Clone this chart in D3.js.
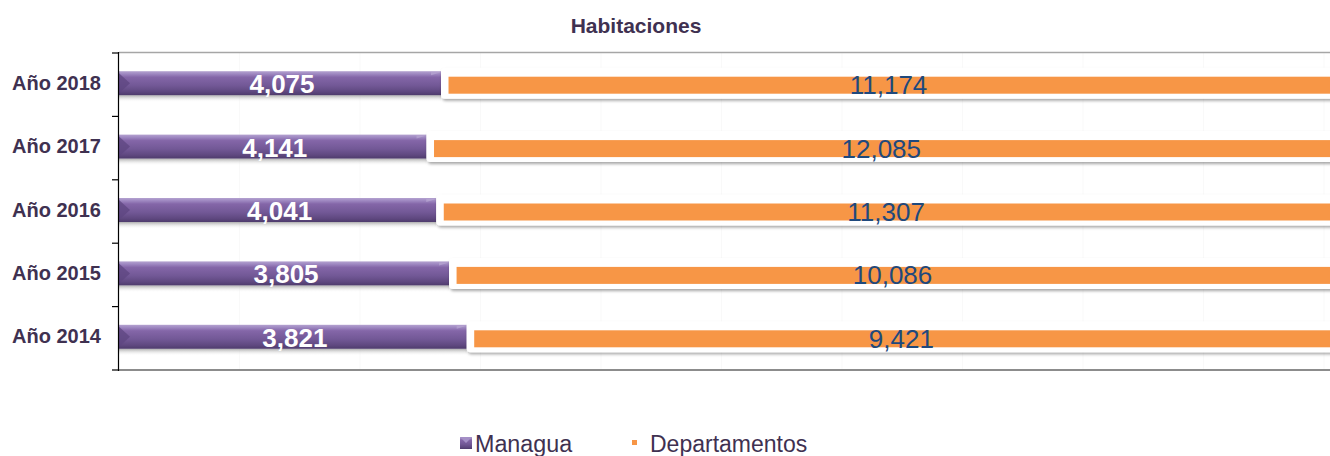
<!DOCTYPE html>
<html>
<head>
<meta charset="utf-8">
<script src="https://cdn.jsdelivr.net/npm/d3@7"></script>
<style>
  html, body { margin: 0; padding: 0; background: #fff; }
  #chart { width: 1330px; height: 456px; }
  text { font-family: "Liberation Sans", Arial, sans-serif; }
</style>
</head>
<body>
<div id="chart"></div>
<script>
const years = ['Año 2018', 'Año 2017', 'Año 2016', 'Año 2015', 'Año 2014']
const managua = [4075, 4141, 4041, 3805, 3821]
const departamentos = [11174, 12085, 11307, 10086, 9421]
const seriesNames = ['Managua', 'Departamentos']

const W = 1330
const H = 456
const PLOT = {left: 119, right: 1324, top: 53, bottom: 370}
const fmt = d3.format(',')

const svg = d3.select('#chart').append('svg').attr('width', W).attr('height', H)
const defs = svg.append('defs')

const purpleGrad = defs.append('linearGradient').attr('id', 'pg').attr('x1', 0).attr('y1', 0).attr('x2', 0).attr('y2', 1)
purpleGrad.selectAll('stop')
  .data([[0, '#b4a2d0'], [0.12, '#9d86c0'], [0.25, '#8466a8'], [0.6, '#725896'], [0.85, '#5f4880'], [1, '#4e3b6c']])
  .enter().append('stop')
  .attr('offset', d => d[0]).attr('stop-color', d => d[1])

const shadowGrad = defs.append('linearGradient').attr('id', 'sg').attr('x1', 0).attr('y1', 0).attr('x2', 0).attr('y2', 1)
shadowGrad.append('stop').attr('offset', 0).attr('stop-color', '#9a9a9a').attr('stop-opacity', 0.8)
shadowGrad.append('stop').attr('offset', 1).attr('stop-color', '#ffffff').attr('stop-opacity', 0)

const boxShadow = defs.append('filter').attr('id', 'bs').attr('x', '-5%').attr('y', '-40%').attr('width', '110%').attr('height', '180%')
boxShadow.append('feDropShadow').attr('dx', 1).attr('dy', 2).attr('stdDeviation', 1.6)
  .attr('flood-color', '#000').attr('flood-opacity', 0.35)

const data = years.map((y, i) => ({year: y, m: managua[i], d: departamentos[i], total: managua[i] + departamentos[i]}))

const x = d3.scaleLinear().domain([0, 1]).range([PLOT.left, PLOT.right])
const y = d3.scaleBand().domain(years).range([PLOT.top, PLOT.bottom])

// title
svg.append('text')
  .attr('x', 636).attr('y', 33)
  .attr('text-anchor', 'middle')
  .attr('font-size', 21).attr('font-weight', 'bold').attr('fill', '#3f3151')
  .text('Habitaciones')

// faint grid
svg.append('g')
  .selectAll('line')
  .data(d3.range(0.1, 1.0001, 0.1))
  .enter().append('line')
  .attr('x1', d => x(d)).attr('x2', d => x(d))
  .attr('y1', PLOT.top).attr('y2', PLOT.bottom)
  .attr('stroke', '#f9f9f9').attr('stroke-width', 1)

// top frame line
svg.append('line')
  .attr('x1', PLOT.left).attr('x2', W).attr('y1', PLOT.top - 0.5).attr('y2', PLOT.top - 0.5)
  .attr('stroke', '#a6a6a6').attr('stroke-width', 1.5)

// bottom line
svg.append('line')
  .attr('x1', PLOT.left).attr('x2', W).attr('y1', PLOT.bottom).attr('y2', PLOT.bottom)
  .attr('stroke', '#8c8c8c').attr('stroke-width', 2)

const rows = svg.selectAll('g.row')
  .data(data)
  .enter()
  .append('g')
  .classed('row', true)
  .attr('transform', d => `translate(0, ${y(d.year) + y.bandwidth() / 2 - 1.5})`)

rows.each(function (d) {
  const g = d3.select(this)
  const x0 = x(0)
  const x1 = x(d.m / d.total)
  const x2 = x(1)
  const bh = 24

  // purple shadow
  g.append('rect')
    .attr('x', x0).attr('y', bh / 2).attr('width', x1 - x0).attr('height', 7)
    .attr('fill', 'url(#sg)')

  // purple bar
  g.append('rect')
    .attr('x', x0).attr('y', -bh / 2).attr('width', x1 - x0).attr('height', bh)
    .attr('fill', 'url(#pg)')
  g.append('path')
    .attr('d', `M${x0},${-bh / 2 + 2} L${x0 + 11},${0} L${x0},${bh / 2 - 2}Z`)
    .attr('fill', '#5d4680').attr('opacity', 0.75)
  g.append('path')
    .attr('d', `M${x1},${-bh / 2 + 1} L${x1 - 10},${-bh / 2 + 1} L${x1 - 10},${-bh / 2 + 4}Z`)
    .attr('fill', '#b9a8d3').attr('opacity', 0.7)
  g.append('text')
    .attr('x', (x0 + x1) / 2 + 2).attr('y', 10)
    .attr('text-anchor', 'middle')
    .attr('font-size', 26).attr('font-weight', 'bold').attr('fill', '#ffffff')
    .text(fmt(d.m))

  // white box + orange bar
  g.append('rect')
    .attr('x', x1).attr('y', -15.5).attr('width', x2 - x1 + 40).attr('height', 31)
    .attr('rx', 4).attr('fill', '#ffffff')
    .attr('filter', 'url(#bs)')
  g.append('rect')
    .attr('x', x1 + 7.5).attr('y', -6.5).attr('width', x2 - x1 + 20).attr('height', 17)
    .attr('fill', '#f79646')
  g.append('text')
    .attr('x', (x1 + x2) / 2 + 6).attr('y', 11)
    .attr('text-anchor', 'middle')
    .attr('font-size', 26).attr('fill', '#1f497d')
    .text(fmt(d.d))
})

// left axis
const axis = svg.append('g')
axis.append('line')
  .attr('x1', PLOT.left - 0.5).attr('x2', PLOT.left - 0.5)
  .attr('y1', PLOT.top - 1).attr('y2', PLOT.bottom + 1)
  .attr('stroke', '#000').attr('stroke-width', 1.2)
axis.selectAll('line.tick')
  .data(d3.range(years.length + 1))
  .enter().append('line').classed('tick', true)
  .attr('x1', PLOT.left - 7).attr('x2', PLOT.left)
  .attr('y1', i => PLOT.top + i * y.step()).attr('y2', i => PLOT.top + i * y.step())
  .attr('stroke', '#000').attr('stroke-width', 1.2)
axis.selectAll('text')
  .data(years)
  .enter().append('text')
  .attr('x', 101).attr('y', d => y(d) + y.bandwidth() / 2 + 5)
  .attr('text-anchor', 'end')
  .attr('font-size', 20).attr('font-weight', 'bold').attr('fill', '#3f3151')
  .text(d => d)

// legend
const legend = svg.append('g')
const lm = legend.append('g').attr('transform', 'translate(460, 437)')
lm.append('rect').attr('width', 12).attr('height', 12).attr('fill', 'url(#pg)')
lm.append('path').attr('d', 'M0,0 L6,6 L12,0Z').attr('fill', '#a48fc6')
legend.append('text')
  .attr('x', 475).attr('y', 452)
  .attr('font-size', 23.3).attr('fill', '#3f3151')
  .text(seriesNames[0])
legend.append('rect')
  .attr('x', 632).attr('y', 440).attr('width', 5).attr('height', 5)
  .attr('fill', '#f79646')
legend.append('text')
  .attr('x', 650).attr('y', 452)
  .attr('font-size', 23).attr('fill', '#3f3151')
  .text(seriesNames[1])
</script>
</body>
</html>
